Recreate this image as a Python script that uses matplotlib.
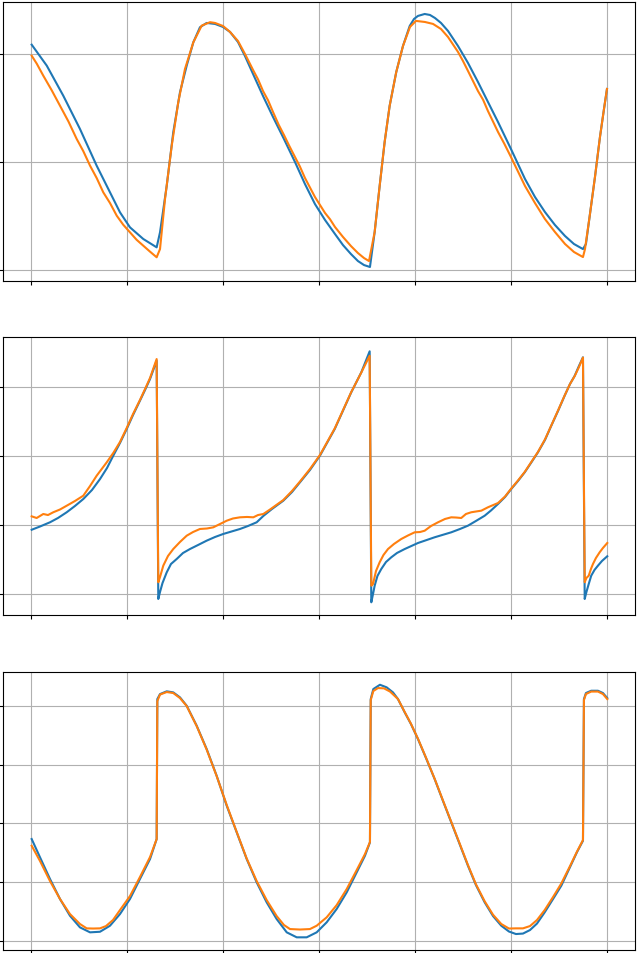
import matplotlib
matplotlib.use("Agg")
import matplotlib.pyplot as plt

C_TRUE = "#1f77b4"   # reference trajectory
C_PRED = "#ff7f0e"   # model output

# ---- panel 1 -------------------------------------------------------------
t1_true = [0.007, 0.164, 0.336, 0.510, 0.684, 0.823, 0.927, 1.031, 1.170, 1.309,
           1.344, 1.414, 1.482, 1.552, 1.622, 1.691, 1.760, 1.830, 1.917, 2.000,
           2.073, 2.156, 2.229, 2.313, 2.417, 2.521, 2.635, 2.750, 2.854, 2.958,
           3.063, 3.167, 3.250, 3.333, 3.406, 3.469, 3.531, 3.580, 3.632, 3.684,
           3.736, 3.805, 3.875, 3.945, 3.990, 4.031, 4.101, 4.156, 4.208, 4.271,
           4.344, 4.448, 4.552, 4.656, 4.760, 4.865, 5.000, 5.146, 5.250, 5.354,
           5.458, 5.563, 5.656, 5.750, 5.781, 5.823, 5.875, 5.927, 5.969, 6.000]
y1_true = [1.086, 0.892, 0.614, 0.306, -0.034, -0.281, -0.466, -0.605, -0.713, -0.790,
           -0.651, -0.219, 0.275, 0.645, 0.892, 1.108, 1.247, 1.287, 1.278, 1.250,
           1.204, 1.111, 0.981, 0.815, 0.611, 0.417, 0.213, 0.000, -0.204, -0.389,
           -0.537, -0.667, -0.769, -0.852, -0.917, -0.954, -0.972, -0.648, -0.222, 0.185,
           0.519, 0.833, 1.074, 1.259, 1.324, 1.352, 1.370, 1.361, 1.333, 1.287,
           1.213, 1.074, 0.917, 0.741, 0.556, 0.370, 0.120, -0.157, -0.324, -0.463,
           -0.583, -0.685, -0.759, -0.806, -0.759, -0.481, -0.139, 0.231, 0.491, 0.676]
t1_pred = [0.007, 0.060, 0.128, 0.215, 0.302, 0.390, 0.476, 0.545, 0.615, 0.685,
           0.753, 0.823, 0.893, 0.960, 1.031, 1.100, 1.170, 1.240, 1.309, 1.344,
           1.396, 1.466, 1.534, 1.604, 1.691, 1.778, 1.865, 1.917, 2.000, 2.073,
           2.156, 2.229, 2.313, 2.365, 2.417, 2.470, 2.521, 2.580, 2.635, 2.690,
           2.750, 2.800, 2.854, 2.958, 3.063, 3.115, 3.167, 3.250, 3.333, 3.406,
           3.469, 3.521, 3.580, 3.632, 3.684, 3.736, 3.805, 3.875, 3.948, 4.010,
           4.104, 4.188, 4.271, 4.344, 4.448, 4.500, 4.552, 4.656, 4.710, 4.760,
           4.865, 4.930, 5.000, 5.146, 5.250, 5.354, 5.458, 5.563, 5.656, 5.750,
           5.771, 5.823, 5.875, 5.927, 5.969, 6.000]
y1_pred = [0.984, 0.910, 0.799, 0.665, 0.521, 0.375, 0.213, 0.100, -0.034, -0.150,
           -0.281, -0.380, -0.497, -0.580, -0.651, -0.720, -0.775, -0.830, -0.882, -0.806,
           -0.343, 0.151, 0.553, 0.861, 1.108, 1.262, 1.294, 1.287, 1.259, 1.204,
           1.120, 1.000, 0.852, 0.765, 0.657, 0.570, 0.463, 0.345, 0.250, 0.150,
           0.046, -0.040, -0.148, -0.324, -0.472, -0.530, -0.602, -0.694, -0.778, -0.843,
           -0.889, -0.917, -0.648, -0.222, 0.185, 0.519, 0.833, 1.074, 1.250, 1.306,
           1.296, 1.278, 1.231, 1.157, 1.019, 0.935, 0.843, 0.657, 0.575, 0.472,
           0.278, 0.170, 0.046, -0.222, -0.380, -0.528, -0.648, -0.759, -0.833, -0.880,
           -0.806, -0.481, -0.139, 0.231, 0.491, 0.676]

# ---- panel 2 -------------------------------------------------------------
t2_true = [0.007, 0.094, 0.198, 0.281, 0.372, 0.458, 0.545, 0.635, 0.719, 0.792,
           0.857, 0.927, 0.997, 1.063, 1.135, 1.188, 1.240, 1.309, 1.326, 1.344,
           1.370, 1.414, 1.458, 1.518, 1.583, 1.656, 1.740, 1.830, 1.917, 2.003,
           2.177, 2.260, 2.351, 2.420, 2.510, 2.628, 2.719, 2.802, 2.906, 3.010,
           3.164, 3.336, 3.441, 3.528, 3.545, 3.563, 3.580, 3.609, 3.649, 3.698,
           3.753, 3.813, 3.893, 4.031, 4.205, 4.378, 4.469, 4.552, 4.635, 4.726,
           4.792, 4.865, 4.938, 5.003, 5.073, 5.143, 5.208, 5.281, 5.354, 5.420,
           5.490, 5.559, 5.615, 5.664, 5.708, 5.750, 5.768, 5.786, 5.810, 5.836,
           5.870, 5.906, 5.948, 6.003]
y2_true = [0.937, 0.984, 1.045, 1.107, 1.190, 1.281, 1.382, 1.512, 1.671, 1.831,
           2.009, 2.193, 2.395, 2.598, 2.805, 2.960, 3.119, 3.384, -0.065, 0.036,
           0.166, 0.321, 0.441, 0.514, 0.600, 0.658, 0.716, 0.779, 0.832, 0.876,
           0.948, 0.991, 1.045, 1.136, 1.237, 1.357, 1.483, 1.624, 1.802, 2.009,
           2.395, 2.926, 3.216, 3.520, -0.113, 0.007, 0.127, 0.268, 0.369, 0.470,
           0.538, 0.601, 0.658, 0.745, 0.828, 0.900, 0.948, 0.996, 1.064, 1.140,
           1.216, 1.310, 1.411, 1.527, 1.643, 1.768, 1.903, 2.058, 2.236, 2.443,
           2.656, 2.877, 3.047, 3.166, 3.307, 3.433, -0.065, 0.036, 0.152, 0.272,
           0.355, 0.417, 0.485, 0.553]
t2_pred = [0.007, 0.059, 0.128, 0.177, 0.232, 0.302, 0.372, 0.458, 0.545, 0.615,
           0.684, 0.729, 0.789, 0.857, 0.927, 0.997, 1.063, 1.135, 1.188, 1.240,
           1.309, 1.326, 1.344, 1.378, 1.427, 1.482, 1.552, 1.622, 1.688, 1.760,
           1.833, 1.899, 1.969, 2.039, 2.104, 2.177, 2.250, 2.316, 2.365, 2.420,
           2.490, 2.628, 2.719, 2.802, 2.906, 3.010, 3.164, 3.336, 3.441, 3.528,
           3.545, 3.563, 3.594, 3.632, 3.672, 3.719, 3.781, 3.857, 3.927, 3.997,
           4.052, 4.101, 4.167, 4.240, 4.313, 4.378, 4.427, 4.482, 4.531, 4.586,
           4.635, 4.691, 4.760, 4.865, 4.938, 5.003, 5.073, 5.143, 5.208, 5.281,
           5.354, 5.420, 5.490, 5.559, 5.615, 5.664, 5.708, 5.750, 5.768, 5.786,
           5.810, 5.833, 5.854, 5.885, 5.924, 5.958, 6.003]
y2_pred = [1.131, 1.107, 1.165, 1.150, 1.190, 1.230, 1.285, 1.353, 1.430, 1.570,
           1.719, 1.802, 1.913, 2.048, 2.207, 2.410, 2.612, 2.815, 2.974, 3.134,
           3.408, 0.177, 0.253, 0.417, 0.557, 0.658, 0.760, 0.851, 0.904, 0.948,
           0.955, 0.972, 1.020, 1.068, 1.100, 1.117, 1.122, 1.117, 1.150, 1.165,
           1.230, 1.367, 1.498, 1.635, 1.816, 2.019, 2.403, 2.930, 3.213, 3.456,
           0.127, 0.152, 0.340, 0.466, 0.572, 0.658, 0.731, 0.803, 0.854, 0.900,
           0.904, 0.923, 0.991, 1.045, 1.093, 1.117, 1.114, 1.107, 1.165, 1.190,
           1.201, 1.213, 1.262, 1.324, 1.418, 1.534, 1.650, 1.773, 1.910, 2.063,
           2.244, 2.446, 2.663, 2.880, 3.047, 3.162, 3.292, 3.430, 0.177, 0.239,
           0.272, 0.369, 0.441, 0.528, 0.611, 0.673, 0.745]

# ---- panel 3 -------------------------------------------------------------
t3_true = [0.007, 0.094, 0.198, 0.302, 0.406, 0.510, 0.615, 0.719, 0.823, 0.927,
           1.031, 1.135, 1.240, 1.309, 1.316, 1.344, 1.414, 1.482, 1.552, 1.622,
           1.726, 1.830, 1.934, 2.039, 2.143, 2.247, 2.351, 2.455, 2.559, 2.664,
           2.768, 2.872, 2.976, 3.080, 3.184, 3.289, 3.393, 3.479, 3.531, 3.539,
           3.566, 3.635, 3.705, 3.771, 3.823, 3.893, 3.958, 4.031, 4.115, 4.205,
           4.292, 4.378, 4.469, 4.552, 4.635, 4.726, 4.813, 4.899, 4.979, 5.052,
           5.125, 5.198, 5.271, 5.351, 5.438, 5.524, 5.615, 5.688, 5.750, 5.760,
           5.781, 5.836, 5.906, 5.958, 6.003]
y3_true = [-0.268, -0.580, -0.950, -1.291, -1.577, -1.775, -1.860, -1.850, -1.747, -1.548,
           -1.291, -0.950, -0.609, -0.268, 2.121, 2.206, 2.253, 2.235, 2.150, 2.007,
           1.666, 1.268, 0.812, 0.300, -0.154, -0.609, -1.007, -1.348, -1.633, -1.860,
           -1.945, -1.945, -1.860, -1.689, -1.462, -1.177, -0.836, -0.553, -0.324, 2.121,
           2.292, 2.365, 2.321, 2.235, 2.121, 1.894, 1.695, 1.439, 1.114, 0.756,
           0.381, 0.017, -0.370, -0.724, -1.053, -1.348, -1.582, -1.747, -1.846, -1.889,
           -1.881, -1.821, -1.710, -1.519, -1.292, -1.065, -0.746, -0.490, -0.297, 2.121,
           2.224, 2.263, 2.263, 2.224, 2.138]
t3_pred = [0.007, 0.094, 0.198, 0.302, 0.406, 0.510, 0.580, 0.646, 0.719, 0.781,
           0.854, 0.927, 1.031, 1.135, 1.240, 1.309, 1.316, 1.344, 1.414, 1.482,
           1.552, 1.622, 1.726, 1.830, 1.934, 2.039, 2.143, 2.247, 2.351, 2.455,
           2.559, 2.635, 2.698, 2.802, 2.906, 2.976, 3.080, 3.184, 3.289, 3.393,
           3.479, 3.531, 3.539, 3.566, 3.615, 3.677, 3.740, 3.823, 3.893, 3.958,
           4.031, 4.115, 4.205, 4.292, 4.378, 4.469, 4.552, 4.635, 4.726, 4.813,
           4.899, 4.979, 5.052, 5.125, 5.198, 5.271, 5.351, 5.438, 5.524, 5.615,
           5.688, 5.750, 5.760, 5.781, 5.836, 5.906, 5.958, 6.003]
y3_pred = [-0.382, -0.643, -0.985, -1.291, -1.548, -1.718, -1.792, -1.795, -1.792, -1.753,
           -1.650, -1.480, -1.241, -0.916, -0.575, -0.268, 2.087, 2.198, 2.241, 2.224,
           2.138, 2.002, 1.660, 1.259, 0.807, 0.312, -0.148, -0.601, -0.985, -1.309,
           -1.582, -1.735, -1.804, -1.812, -1.804, -1.747, -1.604, -1.396, -1.121, -0.797,
           -0.524, -0.319, 2.104, 2.258, 2.309, 2.304, 2.249, 2.121, 1.900, 1.700,
           1.445, 1.120, 0.760, 0.388, 0.025, -0.360, -0.712, -1.040, -1.330, -1.560,
           -1.718, -1.795, -1.792, -1.792, -1.753, -1.650, -1.480, -1.258, -1.027, -0.729,
           -0.481, -0.285, 2.104, 2.207, 2.249, 2.249, 2.207, 2.121]

panels = [(t1_true, y1_true, t1_pred, y1_pred, [-1, 0, 1], (-1.099, 1.484)),
          (t2_true, y2_true, t2_pred, y2_pred, [0, 1, 2, 3], (-0.297, 3.731)),
          (t3_true, y3_true, t3_pred, y3_pred, [-2, -1, 0, 1, 2], (-2.167, 2.587))]
x_ticks = [0, 1, 2, 3, 4, 5, 6]

fig = plt.figure(figsize=(6.38, 9.54), dpi=100)
# axes rectangles (left, bottom, width, height) in figure fractions
rects = [(0.0042, 0.7047, 0.9911, 0.2925),
         (0.0042, 0.3543, 0.9911, 0.2917),
         (0.0042, 0.0028, 0.9911, 0.2920)]

for (tt, yt, tp, yp, y_ticks, ylim), rect in zip(panels, rects):
    ax = fig.add_axes(rect)
    ax.plot(tt, yt, color=C_TRUE, lw=1.5)
    ax.plot(tp, yp, color=C_PRED, lw=1.5)
    ax.set_xlim(-0.295, 6.292)
    ax.set_ylim(*ylim)
    ax.set_xticks(x_ticks)
    ax.set_yticks(y_ticks)
    ax.set_xticklabels([])
    ax.set_yticklabels([])
    ax.tick_params(length=3)
    ax.grid(True, color="#b0b0b0", lw=0.8)

fig.savefig("out.png", dpi=100)
